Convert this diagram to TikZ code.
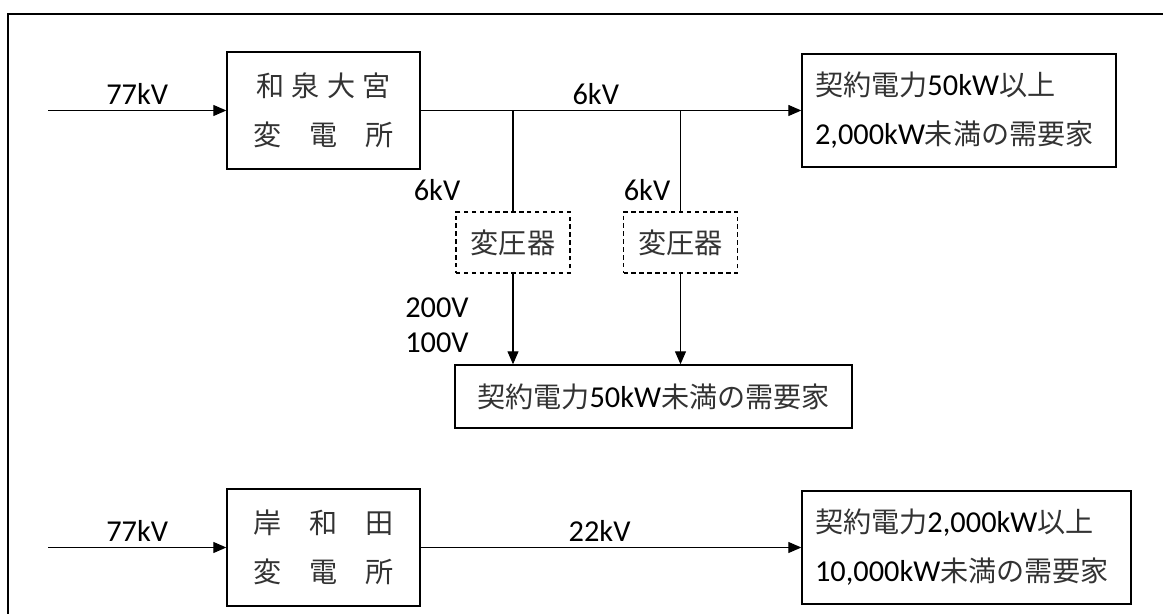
\documentclass[tikz,border=0pt]{standalone}
\usepackage{fontspec}
\setmainfont[Scale=1.08]{Carlito}
\newfontfamily\jpfont{Noto Sans CJK JP}
\newcommand{\jp}[1]{{\jpfont\color{black!80}#1}}
\usetikzlibrary{arrows.meta}

\begin{document}
\begin{tikzpicture}[x=0.02cm, y=-0.02cm,
    font=\fontsize{16}{28}\selectfont,
    box/.style={draw, line width=0.8pt, inner sep=0pt, align=center},
    trafo/.style={draw, line width=0.6pt, dash pattern=on 2.5pt off 2pt,
                  minimum width=2.28cm, minimum height=1.22cm, inner sep=0pt},
    feed/.style={line width=0.6pt, -{Triangle[length=0.26cm, width=0.22cm]}},
    wire/.style={line width=0.6pt},
    volt/.style={inner sep=3pt}]

        % 1. MOLDURA
        \useasboundingbox (0,0) rectangle (1163,614);
        \draw[line width=0.8pt] (1163,14) -- (8,14) -- (8,614);

        % ==========================================
        % 2. SUBESTACOES E CONSUMIDORES
        % ==========================================
        \node[box, minimum width=3.86cm, minimum height=2.34cm] (izumi) at (323.5,110.5)
            {\jp{\makebox[2.7cm][s]{和\hfill 泉\hfill 大\hfill 宮}}\\
             \jp{\makebox[2.8cm][s]{変\hfill 電\hfill 所}}};
        \node[box, minimum width=3.86cm, minimum height=2.34cm] (kishi) at (323.5,547.5)
            {\jp{\makebox[2.8cm][s]{岸\hfill 和\hfill 田}}\\
             \jp{\makebox[2.8cm][s]{変\hfill 電\hfill 所}}};

        \node[box, text width=5.76cm, inner xsep=0.26cm, align=left, minimum height=2.26cm] (large) at (959,110.5)
            {\jp{契約電力}50kW\jp{以上}\\2,000kW\jp{未満の需要家}};
        \node[box, text width=6.06cm, inner xsep=0.26cm, align=left, minimum height=2.26cm] (special) at (966.5,547.5)
            {\jp{契約電力}2,000kW\jp{以上}\\10,000kW\jp{未満の需要家}};
        \node[box, minimum width=7.94cm, minimum height=1.26cm] (small) at (653.5,396.5)
            {\jp{契約電力}50kW\jp{未満の需要家}};

        % transformadores (tracejado)
        \node[trafo] (tr1) at (513,242.5) {\jp{変圧器}};
        \node[trafo] (tr2) at (680.5,242.5) {\jp{変圧器}};

        % ==========================================
        % 3. LINHAS E SETAS
        % ==========================================
        \coordinate (in1) at (48,110.5);
        \coordinate (in2) at (48,547.5);

        \draw[feed] (in1) -- node[above, volt] {77kV} (izumi.west);
        \draw[feed] (izumi.east) -- node[above, volt, pos=0.46] {6kV} (large.west);
        \draw[wire] (tr1.north) -- (tr1.north |- izumi.east);
        \draw[wire] (tr2.north) -- (tr2.north |- izumi.east);
        \draw[feed] (tr1.south) -- (tr1.south |- small.north);
        \draw[feed] (tr2.south) -- (tr2.south |- small.north);

        \draw[feed] (in2) -- node[above, volt] {77kV} (kishi.west);
        \draw[feed] (kishi.east) -- node[above, volt, pos=0.47] {22kV} (special.west);

        % ==========================================
        % 4. ROTULOS DE TENSAO
        % ==========================================
        \node (v6a) at (437,190) {6kV};
        \node (v6b) at (647,190) {6kV};
        \node (v200) at (437,308) {200V};
        \node (v100) at (437,343) {100V};

\end{tikzpicture}
\end{document}
